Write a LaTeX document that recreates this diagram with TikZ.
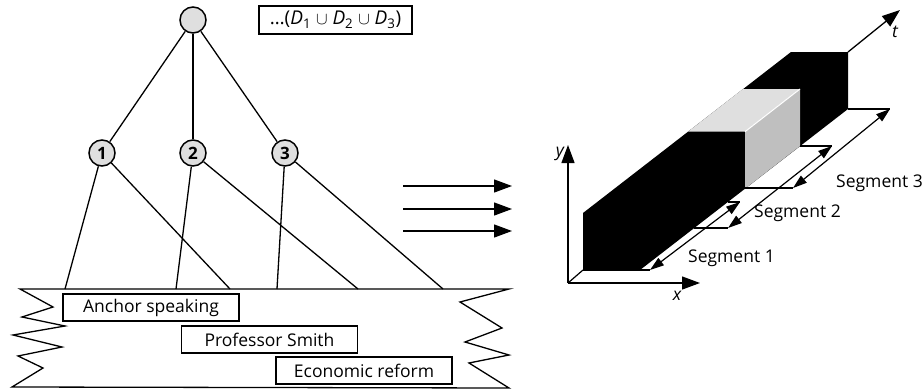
\documentclass[tikz,border=0pt]{standalone}
\usepackage{fontspec}
\setmainfont{Open Sans}
\usetikzlibrary{arrows.meta}
\begin{document}
\begin{tikzpicture}[x=1pt,y=-1pt,
  every node/.style={font=\fontsize{17.5}{20}\selectfont},
  ln/.style={line width=1.3pt},
  circ/.style={circle,draw,line width=1.5pt,fill=gray!25,minimum size=26pt,inner sep=0pt,font=\fontsize{17}{20}\selectfont\bfseries},
  lbl/.style={draw,line width=1.3pt,fill=white,minimum width=176pt,minimum height=27pt,inner sep=0pt},
  bigarr/.style={line width=1.3pt,-{Triangle[length=18pt,width=13pt]}},
  dbl/.style={line width=1.2pt,{Triangle[length=14pt,width=9pt]}-{Triangle[length=14pt,width=9pt]}},
  ext/.style={line width=1.2pt},
  axl/.style={font=\fontsize{17.5}{20}\selectfont\itshape,inner sep=0pt}
]
\useasboundingbox (0,0) rectangle (924,391);

% ---------------- left tree ----------------
\node[circ] (root) at (193,20) {};
\node[draw,line width=1.3pt,minimum width=153pt,minimum height=28pt,inner sep=0pt,font=\fontsize{19}{22}\selectfont] (dbox) at (335.5,20)
  {\dots(\textit{D}\textsubscript{1} $\cup$ \textit{D}\textsubscript{2} $\cup$ \textit{D}\textsubscript{3})};
\node[circ] (n1) at (102,153) {1};
\node[circ] (n2) at (193,153) {2};
\node[circ] (n3) at (285,153) {3};
\draw[ln] (root) -- (n1);
\draw[ln] (root) -- (n2);
\draw[ln] (root) -- (n3);

\coordinate (c1a) at (65,289);
\coordinate (c1b) at (230,289);
\coordinate (c2a) at (176,289);
\coordinate (c2b) at (358,289);
\coordinate (c3a) at (277,289);
\coordinate (c3b) at (443,289);
\draw[ln] (n1) -- (c1a);
\draw[ln] (n1) -- (c1b);
\draw[ln] (n2) -- (c2a);
\draw[ln] (n2) -- (c2b);
\draw[ln] (n3) -- (c3a);
\draw[ln] (n3) -- (c3b);

% band
\draw[ln,line join=miter] (509,289) -- (20,289) -- (53,307) -- (22,317) -- (65,326) -- (13,335) -- (62,347)
  -- (18,356) -- (43,368) -- (12,387) -- (509,388) -- (469,363) -- (509,355) -- (465,342) -- (502,328)
  -- (460,302) -- cycle;

\node[lbl] (la) at (151,307.5) {Anchor speaking};
\node[lbl] (lb) at (269.5,339.5) {Professor Smith};
\node[lbl] (lc) at (364,370.5) {Economic reform};

% ---------------- middle arrows ----------------
\coordinate (m1s) at (403,186); \coordinate (m1e) at (512,186);
\coordinate (m2s) at (403,209); \coordinate (m2e) at (512,209);
\coordinate (m3s) at (403,231); \coordinate (m3e) at (512,231);
\draw[bigarr] (m1s) -- (m1e);
\draw[bigarr] (m2s) -- (m2e);
\draw[bigarr] (m3s) -- (m3e);

% ---------------- right 3D figure ----------------
\coordinate (O) at (568,283);
\coordinate (Ytip) at (568,145);
\coordinate (Xtip) at (700,283);
\coordinate (FBL) at (583,270);
\coordinate (FBR) at (640,270);
\coordinate (FTR) at (640,213);
\coordinate (FTL) at (583,213);
\coordinate (BTL) at (791,52);
\coordinate (BTR) at (848,52);
\coordinate (BBR) at (848,109);
\coordinate (Ttip) at (900,10);

\fill[black] (FBL) -- (FBR) -- (BBR) -- (BTR) -- (BTL) -- (FTL) -- cycle;
% gray middle section
\fill[gray!25] (688,131.7) -- (745,131.7) -- (800,89) -- (743,89) -- cycle;
\fill[gray!50] (745,131.7) -- (745,188.7) -- (800,146) -- (800,89) -- cycle;
\draw[white,line width=1pt] (745,131.7) -- (800,89);

\draw[ext] (O) -- (FBL);
\draw[ext] (FBL) -- (650,270);
\draw[bigarr] (O) -- (Ytip);
\draw[bigarr] (O) -- (Xtip);
\draw[bigarr] (BTR) -- (Ttip);
\node[axl] (xl) at (677,296) {x};
\node[axl] (yl) at (560,154) {y};
\node[axl] (tl) at (895,32) {t};

% extension lines
\coordinate (e0) at (650,270);
\coordinate (e1a) at (694,228); \coordinate (e1b) at (728,228);
\coordinate (e5a) at (728,202); \coordinate (e5b) at (740,202);
\coordinate (e2a) at (745,188); \coordinate (e2b) at (793,188);
\coordinate (e3a) at (800,146); \coordinate (e3b) at (832,146);
\coordinate (e4a) at (848,109); \coordinate (e4b) at (890,109);
\draw[ext] (e1a) -- (e1b);
\draw[ext] (e5a) -- (e5b);
\draw[ext] (e2a) -- (e2b);
\draw[ext] (e3a) -- (e3b);
\draw[ext] (e4a) -- (e4b);

\draw[dbl] (e0) -- (e5b);
\draw[dbl] (e1b) -- (e3b);
\draw[dbl] (e2b) -- (e4b);

\node[anchor=west,inner sep=0pt] (s1) at (688,258) {Segment 1};
\node[anchor=west,inner sep=0pt] (s2) at (754,213) {Segment 2};
\node[anchor=east,inner sep=0pt] (s3) at (923,183) {Segment 3};
\end{tikzpicture}
\end{document}
